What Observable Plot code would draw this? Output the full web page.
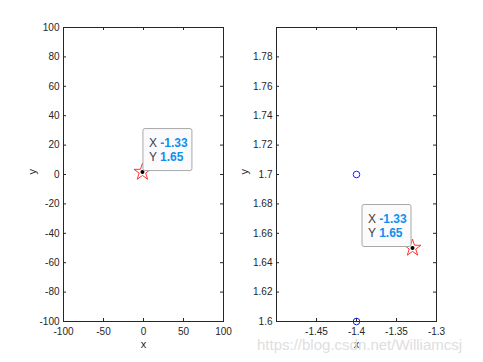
<!DOCTYPE html>
<html><head><meta charset="utf-8">
<script src="https://cdn.jsdelivr.net/npm/d3@7"></script>
<script src="https://cdn.jsdelivr.net/npm/@observablehq/plot@0.6"></script>
<style>
body{margin:0;background:#fff;}
#wrap{position:relative;width:483px;height:362px;overflow:hidden;font-family:"Liberation Sans",Arial,sans-serif;}
#wrap svg{position:absolute;top:0;font-family:"Liberation Sans",Arial,sans-serif;}
#wm{position:absolute;left:257px;top:336px;font-size:15px;line-height:17px;color:#dedede;white-space:nowrap;font-family:"Liberation Sans",Arial,sans-serif;z-index:2;}
</style></head>
<body><div id="wrap"><div id="wm">https://blog.csdn.net/Williamcsj</div></div>
<script>
// data
const starX = [-1.33];
const starY = [1.65];
const circleX = [-1.4, -1.4];
const circleY = [1.7, 1.6];
const leftXDomain = [-100, 100];
const leftYDomain = [-100, 100];
const leftXTicks = [-100, -50, 0, 50, 100];
const leftYTicks = [-100, -80, -60, -40, -20, 0, 20, 40, 60, 80, 100];
const rightXDomain = [-1.5, -1.3];
const rightYDomain = [1.6, 1.8];
const rightXTicks = [-1.45, -1.4, -1.35, -1.3];
const rightYTicks = [1.6, 1.62, 1.64, 1.66, 1.68, 1.7, 1.72, 1.74, 1.76, 1.78];

const stars = starX.map((x, i) => ({x, y: starY[i]}));
const circles = circleX.map((x, i) => ({x, y: circleY[i]}));

const H = 362, MT = 27, MB = 41;
const innerH = H - MT - MB;
const AX = "#262626";
const fmt = v => v.toFixed(2);

function datatip(side) {
  return (index, scales) => {
    const g = d3.create("svg:g").attr("text-anchor", "start");
    stars.forEach(p => {
      const px = scales.x(p.x), py = scales.y(p.y);
      const w = 49, h = 42;
      const bx = side === "right" ? px + 1 : px - 1 - w;
      const by = py - 1 - h;
      g.append("rect").attr("x", bx).attr("y", by).attr("width", w).attr("height", h)
        .attr("rx", 2).attr("fill", "#fbfbfd").attr("stroke", "#a8a8a8").attr("stroke-width", 1);
      const lines = [["X ", fmt(p.x)], ["Y ", fmt(p.y)]];
      lines.forEach((l, i) => {
        const t = g.append("text").attr("x", bx + 6).attr("y", by + 18.5 + i * 14)
          .attr("text-anchor", "start")
          .attr("font-size", 12).attr("font-family", "'Liberation Sans',Arial,sans-serif");
        t.append("tspan").attr("fill", "#404040").text(l[0]);
        t.append("tspan").attr("fill", "#0f8fef").attr("font-weight", "bold").text(l[1]);
      });
    });
    return g.node();
  };
}

function panel(opts) {
  const innerW = opts.width - opts.ml - opts.mr;
  const tl = 3;
  const marks = [
    Plot.frame({stroke: AX, strokeWidth: 1}),
    Plot.tickX(opts.xTicks, {x: d => d, insetTop: innerH - tl, stroke: AX}),
    Plot.tickX(opts.xTicks, {x: d => d, insetBottom: innerH - tl, stroke: AX}),
    Plot.tickY(opts.yTicks, {y: d => d, insetRight: innerW - tl, stroke: AX}),
    Plot.tickY(opts.yTicks, {y: d => d, insetLeft: innerW - tl, stroke: AX}),
    Plot.axisX({ticks: opts.xTicks, tickSize: 0, tickPadding: 6, tickFormat: d => String(d), label: null, fontSize: 10, color: AX}),
    Plot.axisY({ticks: opts.yTicks, tickSize: 0, tickPadding: 4, tickFormat: d => String(d), label: null, fontSize: 10, color: AX}),
    Plot.text(["x"], {frameAnchor: "bottom", dy: 26, text: d => d, fontSize: 11, fill: AX}),
    Plot.text(["y"], {frameAnchor: "left", dx: opts.ylabDx, rotate: -90, text: d => d, fontSize: 11, fill: AX}),
  ];
  if (opts.circles) marks.push(Plot.dot(circles, {x: "x", y: "y", r: 3.3, stroke: "#2020ff", strokeWidth: 1, fill: "none"}));
  marks.push(Plot.dot(stars, {x: "x", y: "y", symbol: "star", r: 5.3, stroke: "#ff2020", strokeWidth: 0.9, fill: "none"}));
  marks.push(Plot.dot(stars, {x: "x", y: "y", r: 2, fill: "black", stroke: "none"}));
  marks.push(datatip(opts.side));
  const svg = Plot.plot({
    width: opts.width, height: H,
    marginLeft: opts.ml, marginRight: opts.mr, marginTop: MT, marginBottom: MB,
    x: {domain: opts.xDomain, axis: null},
    y: {domain: opts.yDomain, axis: null},
    style: {background: "transparent", fontFamily: "'Liberation Sans',Arial,sans-serif", overflow: "visible"},
    marks
  });
  svg.style.left = opts.left + "px";
  return svg;
}

const wrap = document.getElementById("wrap");
wrap.appendChild(panel({left: 0, width: 240, ml: 63, mr: 17, xDomain: leftXDomain, yDomain: leftYDomain,
  xTicks: leftXTicks, yTicks: leftYTicks, circles: false, side: "right", ylabDx: -31}));
wrap.appendChild(panel({left: 240, width: 243, ml: 36, mr: 47, xDomain: rightXDomain, yDomain: rightYDomain,
  xTicks: rightXTicks, yTicks: rightYTicks, circles: true, side: "left", ylabDx: -32}));
</script></body></html>
